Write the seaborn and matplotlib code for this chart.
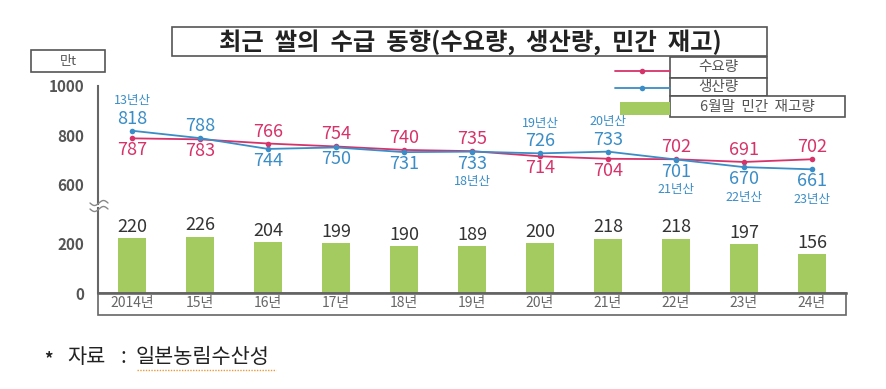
import numpy as np
import pandas as pd
import matplotlib
matplotlib.use("Agg")
import matplotlib.pyplot as plt
from matplotlib.patches import Rectangle
from matplotlib.lines import Line2D
import seaborn as sns

# data (만t)
years = ["2014년", "15년", "16년", "17년", "18년", "19년", "20년", "21년", "22년", "23년", "24년"]
demand = [787, 783, 766, 754, 740, 735, 714, 704, 702, 691, 702]
production = [818, 788, 744, 750, 731, 733, 726, 733, 701, 670, 661]
crop_years = ["13년산", "", "", "", "", "18년산", "19년산", "20년산", "21년산", "22년산", "23년산"]
stock = [220, 226, 204, 199, 190, 189, 200, 218, 218, 197, 156]
# label above (+1) or below (-1) the point
demand_side = [-1, -1, 1, 1, 1, 1, -1, -1, 1, 1, 1]
prod_side = [1, 1, -1, -1, -1, -1, 1, 1, -1, -1, -1]

RED = "#d6336a"
BLUE = "#3a8dc6"
GREEN = "#a3cb5f"
GRAY = "#555555"

sns.set_style("white")
plt.rcParams["font.family"] = ["Noto Sans CJK KR", "DejaVu Sans"]

df = pd.DataFrame({"year": years, "x": np.arange(len(years)),
                   "demand": demand, "production": production, "stock": stock})

fig = plt.figure(figsize=(8.86, 3.89), dpi=100)
W, H = 886, 389


def fx(px):
    return px / W


def fy(py):
    return 1 - py / H


ax_top = fig.add_axes([fx(98), fy(204), fx(846) - fx(98), fy(86) - fy(204)])
ax_bot = fig.add_axes([fx(98), fy(293), fx(846) - fx(98), fy(208) - fy(293)])

# bars
sns.barplot(data=df, x="x", y="stock", color=GREEN, width=0.4, ax=ax_bot,
            saturation=1, edgecolor="none")
for i, v in enumerate(stock):
    ax_bot.annotate(str(v), (i, v), xytext=(0, 2), textcoords="offset pixels",
                    ha="center", va="bottom", fontsize=13, fontweight="medium",
                    color="#333333")

# lines
sns.lineplot(data=df, x="x", y="demand", color=RED, marker="o", markersize=4,
             markeredgewidth=0, lw=1.3, ax=ax_top)
sns.lineplot(data=df, x="x", y="production", color=BLUE, marker="o", markersize=4,
             markeredgewidth=0, lw=1.3, ax=ax_top)

for i in range(len(years)):
    ax_top.annotate(str(demand[i]), (i, demand[i]), xytext=(0, 12 * demand_side[i]),
                    textcoords="offset pixels", ha="center", va="center",
                    fontsize=13, fontweight="medium", color=RED)
    ax_top.annotate(str(production[i]), (i, production[i]), xytext=(0, 12 * prod_side[i]),
                    textcoords="offset pixels", ha="center", va="center",
                    fontsize=13, fontweight="medium", color=BLUE)
    if crop_years[i]:
        ax_top.annotate(crop_years[i], (i, production[i]), xytext=(0, 30 * prod_side[i]),
                        textcoords="offset pixels", ha="center", va="center",
                        fontsize=9, color=BLUE)

for ax in (ax_top, ax_bot):
    ax.set_xlim(-0.5, 10.5)
    ax.set_xlabel("")
    ax.set_ylabel("")
    for s in ("top", "right"):
        ax.spines[s].set_visible(False)
    ax.spines["left"].set_color("#666666")
    ax.spines["left"].set_linewidth(1.5)
    ax.tick_params(axis="y", direction="inout", length=6, width=1, color="#888888",
                   pad=7, labelsize=11, labelcolor=GRAY)

ax_top.set_ylim(520, 1000)
ax_top.set_yticks([600, 800, 1000])
ax_top.set_yticklabels(["600", "800", "1000"], fontweight="bold")
ax_top.spines["bottom"].set_visible(False)
ax_top.set_xticks([])

ax_bot.set_ylim(0, 340)
ax_bot.set_yticks([0, 200])
ax_bot.set_yticklabels(["0", "200"], fontweight="bold")
ax_bot.spines["bottom"].set_color("#555555")
ax_bot.spines["bottom"].set_linewidth(1.8)
ax_bot.set_xticks(range(len(years)))
ax_bot.set_xticklabels(years)
ax_bot.tick_params(axis="x", length=0, pad=2, labelsize=10, labelcolor="#666666")

# x label box
fig.add_artist(Rectangle((fx(98), fy(315)), fx(846) - fx(98), fy(293) - fy(315),
                         transform=fig.transFigure, fill=False, ec="#666666", lw=1.2))

# axis break
t = np.linspace(0, 1, 30)
for dy in (-3, 3):
    fig.add_artist(Line2D(fx(90 + 18 * t), fy(206 + dy + 2.5 * np.sin(2 * np.pi * t)),
                          transform=fig.transFigure, color="#888888", lw=1))

# title
fig.text(fx(470), fy(42), "최근  쌀의  수급  동향(수요량,  생산량,  민간  재고)",
         ha="center", va="center", fontsize=17.5, fontweight="bold", color="#222222")
fig.add_artist(Rectangle((fx(172), fy(56)), fx(767) - fx(172), fy(27) - fy(56),
                         transform=fig.transFigure, fill=False, ec="#555555", lw=1.2))

# unit box
fig.add_artist(Rectangle((fx(31), fy(72)), fx(105) - fx(31), fy(50) - fy(72),
                         transform=fig.transFigure, fill=False, ec="#555555", lw=1.2))
fig.text(fx(68), fy(61), "만t", ha="center", va="center", fontsize=9.5, color=GRAY)

# legend
leg_boxes = [(670, 57, 767, 78, "수요량"), (670, 78, 767, 96, "생산량"),
             (670, 96, 845, 117, "6월말  민간  재고량")]
for x0, y0, x1, y1, lab in leg_boxes:
    fig.add_artist(Rectangle((fx(x0), fy(y1)), fx(x1) - fx(x0), fy(y0) - fy(y1),
                             transform=fig.transFigure, fc="white", ec="#555555", lw=1.2))
    fig.text(fx((x0 + x1) / 2), fy((y0 + y1) / 2), lab, ha="center", va="center",
             fontsize=10.5, color=GRAY)
for yy, c in ((71, RED), (88, BLUE)):
    fig.add_artist(Line2D([fx(615), fx(670)], [fy(yy), fy(yy)], transform=fig.transFigure,
                          color=c, lw=1.3))
    fig.add_artist(Line2D([fx(642)], [fy(yy)], transform=fig.transFigure, color=c,
                          marker="o", markersize=4, markeredgewidth=0))
fig.add_artist(Rectangle((fx(620), fy(115)), fx(670) - fx(620), fy(102) - fy(115),
                         transform=fig.transFigure, fc=GREEN, ec="none"))

# source
src_kw = dict(ha="left", va="center", color="#222222")
fig.text(fx(44), fy(359), "*", fontsize=12, fontweight="bold", **src_kw)
fig.text(fx(67), fy(357), "자료", fontsize=15, **src_kw)
fig.text(fx(121), fy(357), ":", fontsize=15, **src_kw)
fig.text(fx(136), fy(357), "일본농림수산성", fontsize=15, **src_kw)
fig.add_artist(Line2D([fx(137), fx(276)], [fy(370), fy(370)], transform=fig.transFigure,
                      color="#e89a3a", lw=1, ls=(0, (1, 1))))

fig.savefig("out.png", dpi=100)
